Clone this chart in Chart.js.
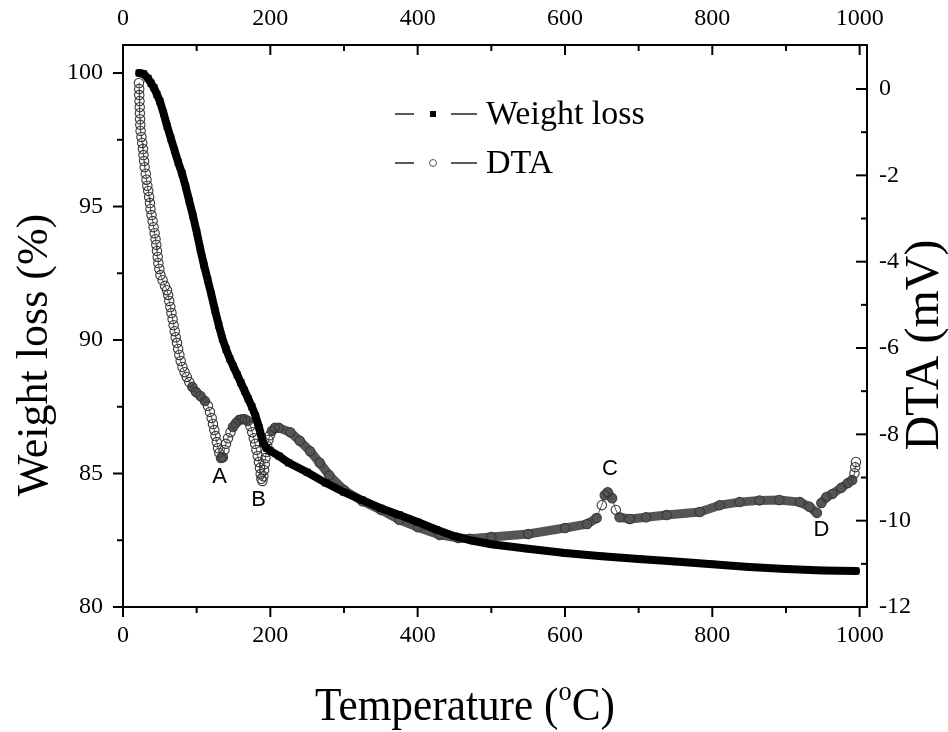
<!DOCTYPE html>
<html>
<head>
<meta charset="utf-8">
<script src="https://cdn.jsdelivr.net/npm/chart.js@4.4.1/dist/chart.umd.min.js"></script>
<style>
  html, body { margin: 0; padding: 0; background: #fff; }
  #wrap { width: 948px; height: 732px; }
</style>
</head>
<body>
<div id="wrap"><canvas id="tga_plot" width="948" height="732"></canvas></div>
<script>
'use strict';

// Weight loss (%), left axis
const weightTemp = [22, 28, 34, 38, 42, 46, 50, 55, 60, 65, 70, 75, 80, 85, 90, 95, 100, 105, 110, 115,
    120, 125, 130, 135, 140, 145, 150, 155, 160, 165, 170, 175, 180, 185, 190, 195, 200, 212, 225, 250,
    275, 300, 325, 350, 375, 400, 425, 450, 475, 500, 550, 600, 650, 700, 750, 800, 850, 900, 950, 995];
const weightLoss = [100, 99.97, 99.8, 99.62, 99.45, 99.2, 98.95, 98.5, 98.0, 97.55, 97.1, 96.65, 96.25, 95.75, 95.2, 94.65, 94.05, 93.4, 92.8, 92.25,
    91.7, 91.1, 90.55, 90.05, 89.65, 89.3, 89.0, 88.7, 88.4, 88.1, 87.8, 87.5, 87.15, 86.7, 86.15, 85.95, 85.85, 85.65, 85.4, 85.05,
    84.65, 84.3, 84.0, 83.7, 83.45, 83.18, 82.9, 82.65, 82.48, 82.35, 82.18, 82.02, 81.9, 81.8, 81.7, 81.6, 81.5, 81.42, 81.37, 81.35];

// DTA (mV), right axis
const dtaTemp = [21.7, 22.0, 22.1, 22.4, 22.7, 22.9, 23.2, 23.5, 23.9, 25.0, 26.1, 27.1, 27.8, 28.6, 29.4, 30.9, 31.9, 33.0,
    34.3, 35.5, 36.6, 37.3, 38.7, 40.2, 41.5, 42.9, 44.2, 45.2, 46.1, 47.1, 48.0, 49.4, 50.9, 53.8, 57.0, 59.7,
    61.3, 62.8, 64.3, 65.8, 67.3, 68.7, 70.2, 71.6, 73.3, 74.9, 76.5, 78.3, 80.7, 83.6, 86.6, 90.0, 94.0, 99.1,
    105.2, 111.3, 115.3, 118.0, 120.4, 122.1, 124.0, 125.6, 127.3, 128.9, 130.7, 133.0, 135.7, 137.7, 139.8, 142.5, 145.9, 149.3,
    153.3, 157.4, 161.5, 165.5, 169.6, 173.0, 175.4, 177.5, 179.4, 181.1, 182.9, 184.5, 185.9, 186.9, 187.9, 189.3, 190.6, 191.6,
    192.4, 193.4, 194.4, 195.8, 197.4, 199.5, 202.2, 206.2, 211.7, 227, 240, 254, 267, 280, 300, 325, 350, 375, 400, 430, 455,
    471, 500, 550, 600, 630, 643, 650, 654, 658, 664, 669, 674, 688, 710, 738, 783, 810, 837, 864, 891, 919, 932, 942, 948,
    955, 963, 975, 984, 990, 993, 994, 995];
const dtaSignal = [0.14, 0.0, -0.14, -0.28, -0.42, -0.56, -0.70, -0.83, -0.97, -1.11, -1.25, -1.39, -1.53, -1.67, -1.81, -1.96, -2.10, -2.24,
    -2.36, -2.50, -2.64, -2.78, -2.92, -3.06, -3.20, -3.34, -3.48, -3.61, -3.75, -3.89, -4.03, -4.17, -4.31, -4.43, -4.56, -4.66,
    -4.77, -4.91, -5.05, -5.19, -5.33, -5.47, -5.61, -5.75, -5.88, -6.02, -6.16, -6.30, -6.44, -6.56, -6.67, -6.79, -6.90, -7.02,
    -7.11, -7.23, -7.34, -7.48, -7.62, -7.76, -7.90, -8.04, -8.18, -8.32, -8.43, -8.55, -8.53, -8.36, -8.22, -8.09, -7.95, -7.83,
    -7.74, -7.67, -7.65, -7.65, -7.69, -7.81, -7.95, -8.09, -8.22, -8.36, -8.50, -8.64, -8.78, -8.92, -9.03, -9.08, -8.97, -8.83,
    -8.69, -8.55, -8.41, -8.27, -8.13, -8.02, -7.92, -7.85, -7.85, -7.95, -8.15, -8.39, -8.66, -8.95, -9.29, -9.55, -9.75, -9.98, -10.15, -10.33, -10.4,
    -10.42, -10.38, -10.31, -10.17, -10.08, -9.94, -9.64, -9.41, -9.34, -9.48, -9.75, -9.92, -9.96, -9.92, -9.87, -9.8, -9.64, -9.57, -9.53, -9.52, -9.57, -9.68, -9.82, -9.59,
    -9.45, -9.38, -9.24, -9.13, -9.06, -8.9, -8.76, -8.64];

// axis ticks
const tempTicks = [0, 100, 200, 300, 400, 500, 600, 700, 800, 900, 1000];
const weightTicks = [80, 82.5, 85, 87.5, 90, 92.5, 95, 97.5, 100];
const dtaTicks = [-12, -11, -10, -9, -8, -7, -6, -5, -4, -3, -2, -1, 0];

// peak labels, placed in (temperature, DTA) units
const peakNames = ['A', 'B', 'C', 'D'];
const peakTemp = [131, 184, 661, 948];
const peakDta = [-8.98, -9.52, -8.81, -10.22];

const SERIF = '"Liberation Serif", "Times New Roman", serif';
const SANS = '"Liberation Sans", Arial, sans-serif';

function toPoints(xs, ys) {
    return xs.map((x, i) => ({ x: x, y: ys[i] }));
}

function tickSetter(values) {
    return scale => { scale.ticks = values.map(v => ({ value: v })); };
}

const tickFont = { family: SERIF, size: 24 };

// frame, tick marks, titles, legend and peak letters
const decorPlugin = {
    id: 'decor',
    afterDraw(chart) {
        const { ctx, chartArea: a, scales } = chart;
        ctx.save();
        ctx.strokeStyle = '#000';
        ctx.lineWidth = 2;
        ctx.strokeRect(a.left, a.top, a.right - a.left, a.bottom - a.top);

        const seg = (x1, y1, x2, y2) => {
            ctx.beginPath(); ctx.moveTo(x1, y1); ctx.lineTo(x2, y2); ctx.stroke();
        };
        for (const v of tempTicks) {
            const x = scales.x.getPixelForValue(v);
            const len = v % 200 === 0 ? 10 : 6;
            seg(x, a.bottom, x, a.bottom + len);   // outward
            seg(x, a.top, x, a.top + len);         // inward
        }
        for (const v of weightTicks) {
            const y = scales.y.getPixelForValue(v);
            seg(a.left, y, a.left - (v % 5 === 0 ? 10 : 6), y);
        }
        for (const v of dtaTicks) {
            const y = scales.y1.getPixelForValue(v);
            seg(a.right, y, a.right - (v % 2 === 0 ? 11 : 6), y);
        }

        // axis titles
        ctx.fillStyle = '#000';
        ctx.textAlign = 'center';
        ctx.textBaseline = 'alphabetic';

        ctx.save();
        ctx.translate(47, 355);
        ctx.rotate(-Math.PI / 2);
        ctx.font = '44px ' + SERIF;
        ctx.fillText('Weight loss (%)', 0, 0);
        ctx.restore();

        ctx.save();
        ctx.translate(938, 345);
        ctx.rotate(-Math.PI / 2);
        ctx.font = '48px ' + SERIF;
        ctx.fillText('DTA (mV)', 0, 0);
        ctx.restore();

        // Temperature (°C) with raised o
        const big = '46px ' + SERIF, small = '28px ' + SERIF;
        const parts = [['Temperature (', big, 0], ['o', small, -20], ['C)', big, 0]];
        let total = 0;
        for (const p of parts) { ctx.font = p[1]; total += ctx.measureText(p[0]).width; }
        const sx = 300 / total;
        ctx.save();
        ctx.translate(465 - 150, 720);
        ctx.scale(sx, 1);
        ctx.textAlign = 'left';
        let cx = 0;
        for (const p of parts) {
            ctx.font = p[1];
            ctx.fillText(p[0], cx, p[2]);
            cx += ctx.measureText(p[0]).width;
        }
        ctx.restore();

        // legend
        ctx.textAlign = 'left';
        ctx.textBaseline = 'middle';
        ctx.font = '34px ' + SERIF;
        ctx.lineWidth = 1.5;
        ctx.strokeStyle = '#222';
        const rows = [114, 163];
        for (const ry of rows) {
            seg(395, ry, 414, ry);
            seg(451, ry, 477, ry);
        }
        ctx.fillStyle = '#000';
        ctx.fillRect(430, rows[0] - 3, 6, 6);
        ctx.beginPath();
        ctx.arc(433, rows[1], 3.5, 0, 2 * Math.PI);
        ctx.fillStyle = '#fff';
        ctx.fill();
        ctx.lineWidth = 1;
        ctx.strokeStyle = '#555';
        ctx.stroke();
        ctx.fillStyle = '#000';
        ctx.fillText(chart.data.datasets[0].label, 486, rows[0] + 1);
        ctx.fillText(chart.data.datasets[1].label, 486, rows[1] + 1);

        // peak letters
        ctx.textAlign = 'center';
        ctx.font = '22px ' + SANS;
        peakNames.forEach((name, i) => {
            ctx.fillText(name, scales.x.getPixelForValue(peakTemp[i]), scales.y1.getPixelForValue(peakDta[i]));
        });
        ctx.restore();
    }
};

const config = {
    type: 'scatter',
    data: {
        datasets: [
            {
                label: 'Weight loss',
                data: toPoints(weightTemp, weightLoss),
                xAxisID: 'x',
                yAxisID: 'y',
                showLine: true,
                borderColor: '#000',
                borderWidth: 8,
                borderCapStyle: 'round',
                pointStyle: 'rect',
                pointRadius: 5,
                pointBackgroundColor: '#000',
                pointBorderWidth: 0
            },
            {
                label: 'DTA',
                data: toPoints(dtaTemp, dtaSignal),
                xAxisID: 'x',
                yAxisID: 'y1',
                showLine: true,
                borderColor: '#555',
                borderCapStyle: 'round',
                borderJoinStyle: 'round',
                segment: {
                    // steep runs show the thin connecting line, flat runs the dense grey band
                    borderWidth: ctx => {
                        const dx = Math.abs(ctx.p1.x - ctx.p0.x);
                        const dy = Math.abs(ctx.p1.y - ctx.p0.y);
                        return dy > 1.6 * dx ? 1 : 9;
                    }
                },
                pointStyle: 'circle',
                pointRadius: 4.7,
                pointBackgroundColor: 'rgba(255,255,255,0)',
                pointBorderColor: '#383838',
                pointBorderWidth: 1.1
            }
        ]
    },
    options: {
        responsive: false,
        animation: false,
        layout: { padding: 0 },
        plugins: {
            legend: { display: false },
            tooltip: { enabled: false }
        },
        scales: {
            x: {
                type: 'linear', position: 'bottom', min: 0, max: 1010,
                afterBuildTicks: tickSetter(tempTicks),
                afterFit: s => { s.height = 125; },
                grid: { display: false, drawTicks: false, tickLength: 0 },
                border: { display: false },
                ticks: { autoSkip: false, maxRotation: 0, padding: 14, color: '#000', font: tickFont,
                    callback: v => (v % 200 === 0 ? String(v) : '') }
            },
            x2: {
                type: 'linear', position: 'top', min: 0, max: 1010,
                afterBuildTicks: tickSetter(tempTicks),
                afterFit: s => { s.height = 45; },
                grid: { display: false, drawTicks: false, tickLength: 0 },
                border: { display: false },
                ticks: { autoSkip: false, maxRotation: 0, padding: 12, color: '#000', font: tickFont,
                    callback: v => (v % 200 === 0 ? String(v) : '') }
            },
            y: {
                type: 'linear', position: 'left', min: 80, max: 101.05,
                afterBuildTicks: tickSetter(weightTicks),
                afterFit: s => { s.width = 123; },
                grid: { display: false, drawTicks: false, tickLength: 0 },
                border: { display: false },
                ticks: { autoSkip: false, padding: 20, color: '#000', font: tickFont,
                    callback: v => (v % 5 === 0 ? String(v) : '') }
            },
            y1: {
                type: 'linear', position: 'right', min: -12, max: 1.02,
                afterBuildTicks: tickSetter(dtaTicks),
                afterFit: s => { s.width = 81; },
                grid: { display: false, drawTicks: false, tickLength: 0 },
                border: { display: false },
                ticks: { autoSkip: false, padding: 12, color: '#000', font: tickFont,
                    callback: v => (v % 2 === 0 ? String(v) : '') }
            }
        }
    },
    plugins: [decorPlugin]
};

const tgaChart = new Chart(document.getElementById('tga_plot'), config);
</script>
</body>
</html>
